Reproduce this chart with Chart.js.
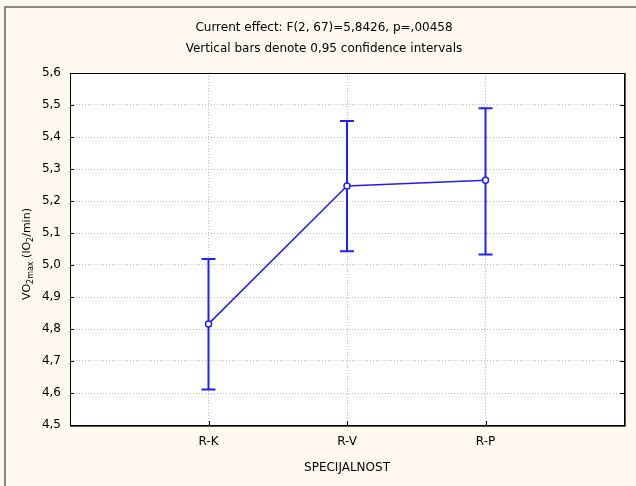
<!DOCTYPE html>
<html>
<head>
<meta charset="utf-8">
<script src="https://cdn.jsdelivr.net/npm/chart.js@4.4.1/dist/chart.umd.min.js"></script>
<style>
  html, body { margin: 0; padding: 0; background: #fff9ef; }
  #wrap { width: 636px; height: 486px; }
</style>
</head>
<body>
<div id="wrap"><canvas id="chart"></canvas></div>
<script>
// data
const categories = ['R-K', 'R-V', 'R-P'];
const means = [4.816, 5.247, 5.265];
const lowerCI = [4.611, 5.043, 5.033];
const upperCI = [5.019, 5.450, 5.490];
const titleLines = ['Current effect: F(2, 67)=5,8426, p=,00458', 'Vertical bars denote 0,95 confidence intervals'];

const FONT = 'DejaVu Sans';
const BLUE = 'rgb(30,30,255)';

// background, outer frame and white plot area
const backdrop = {
    id: 'backdrop',
    beforeDraw(chart) {
        const ctx = chart.ctx;
        const a = chart.chartArea;
        ctx.save();
        ctx.fillStyle = '#fff9ef';
        ctx.fillRect(0, 0, chart.width, chart.height);
        ctx.strokeStyle = '#8c8a80';
        ctx.lineWidth = 2;
        ctx.beginPath();
        ctx.moveTo(5, chart.height);
        ctx.lineTo(5, 7);
        ctx.lineTo(chart.width, 7);
        ctx.stroke();
        ctx.fillStyle = '#ffffff';
        ctx.fillRect(a.left, a.top, a.right - a.left, a.bottom - a.top);
        ctx.restore();
    }
};

// frame round the plot and small inside ticks
const frame = {
    id: 'frame',
    afterDraw(chart) {
        const ctx = chart.ctx;
        const a = chart.chartArea;
        const ys = chart.scales.y;
        const xs = chart.scales.x;
        ctx.save();
        ctx.strokeStyle = '#000';
        ctx.lineWidth = 1;
        ctx.strokeRect(a.left + 0.5, a.top + 0.5, a.right - a.left, a.bottom - a.top);
        ctx.strokeStyle = '#555';
        ctx.beginPath();
        ctx.moveTo(a.right + 1.5, a.top);
        ctx.lineTo(a.right + 1.5, a.bottom + 1.5);
        ctx.lineTo(a.left, a.bottom + 1.5);
        ctx.stroke();
        ctx.strokeStyle = '#000';
        ctx.beginPath();
        ys.ticks.forEach(t => {
            const py = Math.round(ys.getPixelForValue(t.value)) + 0.5;
            ctx.moveTo(a.left, py); ctx.lineTo(a.left + 4, py);
            ctx.moveTo(a.right, py); ctx.lineTo(a.right - 4, py);
        });
        categories.forEach((c, i) => {
            const px = Math.round(xs.getPixelForValue(i + 1)) + 0.5;
            ctx.moveTo(px, a.bottom); ctx.lineTo(px, a.bottom - 4);
        });
        ctx.stroke();
        ctx.restore();
    }
};

// 95% confidence interval whiskers
const errorBars = {
    id: 'errorBars',
    beforeDatasetsDraw(chart) {
        const ctx = chart.ctx;
        const xs = chart.scales.x;
        const ys = chart.scales.y;
        ctx.save();
        ctx.strokeStyle = BLUE;
        ctx.lineWidth = 2;
        categories.forEach((c, i) => {
            const px = xs.getPixelForValue(i + 1);
            const top = ys.getPixelForValue(upperCI[i]);
            const bot = ys.getPixelForValue(lowerCI[i]);
            ctx.beginPath();
            ctx.moveTo(px, top); ctx.lineTo(px, bot);
            ctx.moveTo(px - 7, top); ctx.lineTo(px + 7, top);
            ctx.moveTo(px - 7, bot); ctx.lineTo(px + 7, bot);
            ctx.stroke();
        });
        ctx.restore();
    }
};

// y axis title with subscripts
const yTitle = {
    id: 'yTitle',
    afterDraw(chart) {
        const ctx = chart.ctx;
        const a = chart.chartArea;
        const parts = [
            ['VO', 11, 0], ['2max', 8, 3], [' (lO', 11, 0], ['2', 8, 3], ['/min)', 11, 0]
        ];
        ctx.save();
        ctx.fillStyle = '#000';
        ctx.textBaseline = 'alphabetic';
        let total = 0;
        parts.forEach(p => { ctx.font = p[1] + 'px "' + FONT + '"'; total += ctx.measureText(p[0]).width; });
        ctx.translate(30, (a.top + a.bottom) / 2 + 5);
        ctx.rotate(-Math.PI / 2);
        let x = -total / 2;
        parts.forEach(p => {
            ctx.font = p[1] + 'px "' + FONT + '"';
            ctx.fillText(p[0], x, p[2]);
            x += ctx.measureText(p[0]).width;
        });
        ctx.restore();
    }
};

const lineData = means.map((m, i) => ({ x: i + 1, y: m }));

new Chart(document.getElementById('chart'), {
    type: 'line',
    data: {
        datasets: [{
            data: lineData,
            borderColor: BLUE,
            borderWidth: 1.5,
            pointRadius: 3,
            pointBorderWidth: 1.5,
            pointBackgroundColor: '#fff',
            pointBorderColor: BLUE,
            tension: 0
        }]
    },
    options: {
        responsive: true,
        maintainAspectRatio: false,
        animation: false,
        layout: { padding: { left: 24, right: 12, top: 0, bottom: 0 } },
        plugins: {
            legend: { display: false },
            tooltip: { enabled: false },
            title: {
                display: true,
                text: titleLines,
                color: '#000',
                font: { family: FONT, size: 12, weight: 'normal', lineHeight: 21 / 12 },
                padding: { top: 17, bottom: 14 }
            }
        },
        scales: {
            x: {
                type: 'linear',
                min: 0,
                max: 4,
                afterFit: s => { s.height = 61; },
                ticks: {
                    stepSize: 1,
                    padding: 10,
                    color: '#000',
                    font: { family: FONT, size: 12 },
                    maxRotation: 0,
                    callback: v => categories[v - 1] || ''
                },
                grid: {
                    drawTicks: false,
                    color: ctx => (ctx.tick && ctx.tick.value > 0 && ctx.tick.value < 4) ? '#b8b8b8' : 'rgba(0,0,0,0)'
                },
                border: { display: false, dash: [1, 2] },
                title: {
                    display: true,
                    text: 'SPECIJALNOST',
                    color: '#000',
                    font: { family: FONT, size: 12 },
                    padding: { top: 12, bottom: 11 }
                }
            },
            y: {
                min: 4.5,
                max: 5.6,
                afterFit: s => { s.width = 46; },
                ticks: {
                    stepSize: 0.1,
                    padding: 9,
                    color: '#000',
                    font: { family: FONT, size: 12 },
                    callback: v => v.toFixed(1).replace('.', ',')
                },
                grid: {
                    drawTicks: false,
                    color: ctx => (ctx.tick && ctx.tick.value > 4.55 && ctx.tick.value < 5.55) ? '#b8b8b8' : 'rgba(0,0,0,0)'
                },
                border: { display: false, dash: [1, 2] }
            }
        }
    },
    plugins: [backdrop, errorBars, frame, yTitle]
});
</script>
</body>
</html>
